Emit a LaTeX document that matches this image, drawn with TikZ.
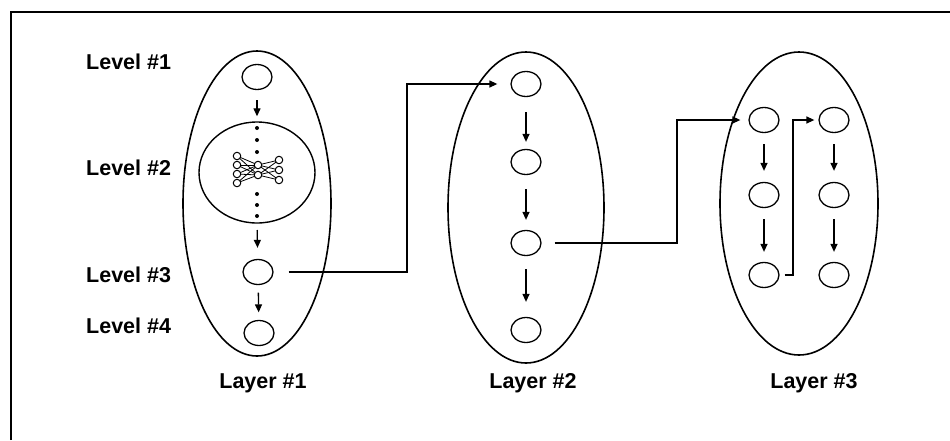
\documentclass[tikz,border=0pt]{standalone}
\usepackage{fontspec}
\setmainfont{Liberation Sans}
\usetikzlibrary{shapes.geometric,arrows.meta}
\tikzset{
  big/.style={draw, ellipse, line width=1.6pt, inner sep=0pt},
  cell/.style={draw, ellipse, line width=1.3pt, minimum width=30pt, minimum height=25pt, inner sep=0pt},
  tiny/.style={draw, circle, line width=1pt, fill=white, minimum size=7.5pt, inner sep=0pt},
  dotn/.style={fill, circle, minimum size=4pt, inner sep=0pt},
  arr/.style={line width=1.3pt, -{Triangle[length=8pt,width=7pt]}},
  lab/.style={font=\fontsize{21.5}{24}\selectfont\bfseries, inner sep=0pt},
  net/.style={line width=0.8pt}
}
\begin{document}
\begin{tikzpicture}[x=1pt,y=-1pt]
\useasboundingbox (0,0) rectangle (950,440);
\fill[white] (0,0) rectangle (950,440);
% frame
\draw[line width=2.2pt] (11,440) -- (11,12) -- (950,12);

% level labels
\node[lab, anchor=west] (lv1) at (86,62) {Level \#1};
\node[lab, anchor=west] (lv2) at (86,168) {Level \#2};
\node[lab, anchor=west] (lv3) at (86,275) {Level \#3};
\node[lab, anchor=west] (lv4) at (86,326) {Level \#4};

% Layer 1
\node[big, minimum width=148pt, minimum height=305pt] (L1) at (257,203.5) {};
\node[cell] (a1) at (257,77) {};
\node[big, line width=1.4pt, minimum width=116pt, minimum height=101pt] (inner) at (257,172.5) {};
\node[cell] (a3) at (258,272) {};
\node[cell] (a4) at (259,333) {};
\draw[arr, shorten <=10pt, shorten >=5pt] (a1) -- (a1 |- inner.north);
\draw[arr, shorten <=7pt, shorten >=11pt] (inner) ++(0,50.5) coordinate (ib) (ib) -- (a3);
\draw[arr, shorten <=7.5pt, shorten >=7.5pt] (a3) -- (a4);
% dots
\foreach \i/\y in {1/128,2/140,3/152,4/194,5/205,6/216}
  \node[dotn] (d\i) at (257,\y) {};
% network glyph
\foreach \i/\y in {1/156,2/165,3/174,4/183} \coordinate (nl\i) at (237,\y);
\foreach \i/\y in {1/165,2/175} \coordinate (nm\i) at (258,\y);
\foreach \i/\y in {1/160,2/170,3/180} \coordinate (nr\i) at (279,\y);
\foreach \a in {1,2,3,4} \foreach \b in {1,2} \draw[net] (nl\a) -- (nm\b);
\foreach \a in {1,2} \foreach \b in {1,2,3} \draw[net] (nm\a) -- (nr\b);
\foreach \i in {1,2,3,4} \node[tiny] (tl\i) at (nl\i) {};
\foreach \i in {1,2} \node[tiny] (tm\i) at (nm\i) {};
\foreach \i in {1,2,3} \node[tiny] (tr\i) at (nr\i) {};

% Layer 2
\node[big, minimum width=156pt, minimum height=311pt] (L2) at (526,207.5) {};
\node[cell] (b1) at (526,84) {};
\node[cell] (b2) at (526,162) {};
\node[cell] (b3) at (526,243) {};
\node[cell] (b4) at (526,330) {};
\draw[arr, shorten <=15pt, shorten >=7pt] (b1) -- (b2);
\draw[arr, shorten <=14pt, shorten >=10pt] (b2) -- (b3);
\draw[arr, shorten <=13pt, shorten >=15pt] (b3) -- (b4);

% Layer 3
\node[big, minimum width=158pt, minimum height=303pt] (L3) at (799,203.5) {};
\node[cell] (c1) at (764,120) {};
\node[cell] (c2) at (764,195) {};
\node[cell] (c3) at (764,275) {};
\node[cell] (e1) at (834,120) {};
\node[cell] (e2) at (834,195) {};
\node[cell] (e3) at (834,275) {};
\draw[arr, shorten <=11pt, shorten >=11pt] (c1) -- (c2);
\draw[arr, shorten <=11pt, shorten >=10pt] (c2) -- (c3);
\draw[arr, shorten <=11pt, shorten >=11pt] (e1) -- (e2);
\draw[arr, shorten <=11pt, shorten >=10pt] (e2) -- (e3);

% connectors between layers
\coordinate (j1) at (407,272);
\coordinate (j2) at (677,243);
\coordinate (j3) at (793,275);
\draw[arr, shorten >=13pt] ([xshift=15pt]a3.east) -- (j1) |- (b1);
\draw[arr, shorten >=8pt] ([xshift=13pt]b3.east) -- (j2) |- (c1);
\draw[arr, shorten >=4pt] ([xshift=5pt]c3.east) -- (j3) |- (e1);

% layer labels
\node[lab] (ly1) at (263,383) {Layer \#1};
\node[lab] (ly2) at (533,383) {Layer \#2};
\node[lab] (ly3) at (814,383) {Layer \#3};
\end{tikzpicture}
\end{document}
